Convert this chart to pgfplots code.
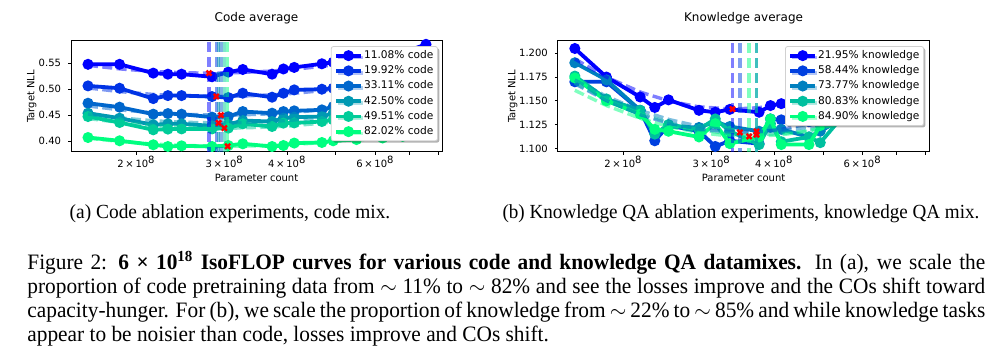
\documentclass[border=0pt]{standalone}
\usepackage{fontspec}
\setmainfont{Liberation Serif}
\newfontfamily\plotfont{DejaVu Sans}
\usepackage{pgfplots}
\usepackage{pgfplotstable}
\pgfplotsset{compat=1.18}
\usetikzlibrary{shadows}

\definecolor{c1}{rgb}{0,0,1}
\definecolor{c2}{rgb}{0,0.2,0.9}
\definecolor{c3}{rgb}{0,0.4,0.8}
\definecolor{c4}{rgb}{0,0.6,0.7}
\definecolor{c5}{rgb}{0,0.8,0.6}
\definecolor{c6}{rgb}{0,1,0.5}
\definecolor{k1}{rgb}{0,0,1}
\definecolor{k2}{rgb}{0,0.25,0.875}
\definecolor{k3}{rgb}{0,0.5,0.75}
\definecolor{k4}{rgb}{0,0.75,0.625}
\definecolor{k5}{rgb}{0,1,0.5}

\pgfplotstableread{
N s1 s2 s3 s4 s5 s6
1.60e8 0.548 0.5064 0.473 0.4538 0.4473 0.4069
1.85e8 0.548 0.5019 0.4654 0.4442 0.4358 0.4006
2.16e8 0.531 0.4819 0.4519 0.4313 0.4217 0.3929
2.31e8 0.529 0.4877 0.4531 0.4333 0.4231 0.3896
2.46e8 0.529 0.4877 0.4519 0.4333 0.4235 0.3909
2.83e8 0.524 0.4858 0.4462 0.4294 0.4235 0.3896
3.05e8 0.533 0.4839 0.4473 0.4320 0.4250 0.3915
3.26e8 0.538 0.4923 0.4569 0.4396 0.4333 0.3948
3.73e8 0.529 0.4846 0.4538 0.4377 0.4281 0.3896
3.93e8 0.539 0.4923 0.4569 0.4442 0.4346 0.3915
4.13e8 0.542 0.4987 0.4583 0.4462 0.4350 0.3962
4.69e8 0.549 0.5000 0.4602 0.4473 0.4377 0.3973
4.94e8 0.552 0.5019 0.4665 0.4538 0.4410 0.4006
5.50e8 0.556 0.507 0.470 0.457 0.448 0.403
6.20e8 0.562 0.512 0.474 0.461 0.452 0.406
6.80e8 0.570 0.519 0.480 0.467 0.457 0.409
7.57e8 0.5865 0.530 0.490 0.476 0.466 0.416
}\codedata

\pgfplotstableread{
N k1 k2 k3 k4 k5
1.60e8 1.205 1.170 1.190 1.176 1.174
1.85e8 1.175 1.170 1.172 1.152 1.150
2.16e8 1.154 1.140 1.140 1.140 1.136
2.31e8 1.143 1.108 1.116 1.115 1.120
2.46e8 1.151 1.124 1.123 1.125 1.118
2.83e8 1.140 1.118 1.122 1.120 1.112
3.05e8 1.138 1.102 1.128 1.131 1.126
3.26e8 1.141 1.108 1.123 1.118 1.105
3.73e8 1.138 1.105 1.118 1.104 1.112
3.93e8 1.145 1.131 1.122 1.126 1.131
4.13e8 1.147 1.130 1.120 1.107 1.104
4.69e8 1.152 1.128 1.112 1.112 1.104
4.94e8 1.156 1.130 1.118 1.106 1.124
5.50e8 1.162 1.138 1.132 1.135 1.134
6.20e8 1.170 1.142 1.136 1.138 1.137
6.80e8 1.176 1.148 1.140 1.140 1.140
7.57e8 1.185 1.155 1.145 1.145 1.143
}\knowdata

\newcommand{\tl}[1]{#1\,×\,10\textsuperscript{8}}
\newcommand{\pf}{\plotfont\fontsize{5}{6}\selectfont}
\newcommand{\lf}{\plotfont\fontsize{5.3}{6}\selectfont}

\pgfplotsset{
  myax/.style={
    scale only axis, width=185.5pt, height=55.65pt,
    xmin=1.48e8, xmax=8.15e8,
    xtick={2e8,3e8,4e8,6e8},
    xticklabels={\tl{2},\tl{3},\tl{4},\tl{6}},
    extra x ticks={5e8,7e8,8e8},
    extra x tick labels={,,},
    tick align=outside, tick pos=left,
    major tick length=1.5pt,
    tick style={black, line width=0.4pt},
    axis line style={line width=0.5pt},
    ticklabel style={font=\pf},
    xticklabel style={yshift=3pt},
    xlabel={Parameter count}, ylabel={Target NLL},
    xlabel style={font=\pf, at={(axis description cs:0.5,-0.234)}, anchor=center},
    title style={font=\plotfont\fontsize{6}{7}\selectfont, at={(axis description cs:0.5,1.096)}, anchor=center},
    clip mode=individual,
    legend cell align=left,
    legend style={anchor=north east, font=\lf, draw=black!18, line width=0.4pt,
      rounded corners=1.2pt, fill=white, inner xsep=1.5pt, inner ysep=1.5pt,
      row sep=1.4pt,
      drop shadow={shadow xshift=0.9pt, shadow yshift=-0.9pt, fill=black, opacity=0.3},
      nodes={inner sep=0.6pt, text height=3.9pt, text depth=1.1pt}},
    legend image code/.code={
      \draw[mark repeat=2,mark phase=2,##1] plot coordinates {(0pt,0pt)(6.2pt,0pt)(12.4pt,0pt)};
    },
  },
  dat/.style={line width=1.9pt, mark=*, mark size=1.75pt, color=#1, mark options={solid}},
  fitl/.style={line width=1.7pt, dash pattern=on 5pt off 2.2pt, color=#1, opacity=0.5, forget plot, mark=none},
  vl/.style={line width=1.7pt, dash pattern=on 5pt off 2.5pt, color=#1, opacity=0.5, forget plot, mark=none},
  co/.style={only marks, mark=x, mark size=1.8pt, red, line width=1.2pt, forget plot},
}

\newcommand{\mainline}[1]{\scalebox{0.97}[1]{\makebox[493.8pt][s]{#1}}}

\begin{document}
\begin{tikzpicture}
\useasboundingbox (0,0) rectangle (500pt,-181.5pt);

% ---------------- Code plot ----------------
\begin{semilogxaxis}[myax, at={(35.5pt,-76pt)}, anchor=south west,
  title={Code average},
  ymin=0.379, ymax=0.5935,
  ytick={0.40,0.45,0.50,0.55}, yticklabels={0.40,0.45,0.50,0.55},
  ylabel style={font=\pf, at={(axis description cs:-0.1062,0.5)}, anchor=center},
  legend style={at={(axis description cs:0.989,0.952)}},
]
\addplot[dat=c1] table[x=N,y=s1]{\codedata};
\addplot[dat=c2] table[x=N,y=s2]{\codedata};
\addplot[dat=c3] table[x=N,y=s3]{\codedata};
\addplot[dat=c4] table[x=N,y=s4]{\codedata};
\addplot[dat=c5] table[x=N,y=s5]{\codedata};
\addplot[dat=c6] table[x=N,y=s6]{\codedata};
\legend{11.08\% code,19.92\% code,33.11\% code,42.50\% code,49.51\% code,82.02\% code}
% fits
\addplot[fitl=c1] coordinates {(1.600e8,0.5460)(1.854e8,0.5391)(2.173e8,0.5340)(2.472e8,0.5317)(2.791e8,0.5310)(3.162e8,0.5318)(3.724e8,0.5350)(4.130e8,0.5384)(4.688e8,0.5440)(5.623e8,0.5547)(7.568e8,0.5790)};
\addplot[fitl=c2] coordinates {(1.600e8,0.5024)(1.854e8,0.4953)(2.173e8,0.4898)(2.472e8,0.4871)(2.886e8,0.4860)(3.162e8,0.4864)(3.724e8,0.4891)(4.130e8,0.4921)(4.688e8,0.4971)(5.623e8,0.5070)(7.568e8,0.5298)};
\addplot[fitl=c3] coordinates {(1.600e8,0.4677)(1.854e8,0.4602)(2.173e8,0.4544)(2.472e8,0.4515)(2.949e8,0.4500)(3.162e8,0.4502)(3.724e8,0.4526)(4.130e8,0.4554)(4.688e8,0.4601)(5.623e8,0.4696)(7.568e8,0.4919)};
\addplot[fitl=c4] coordinates {(1.600e8,0.4520)(1.854e8,0.4447)(2.173e8,0.4391)(2.472e8,0.4363)(2.917e8,0.4350)(3.162e8,0.4353)(3.724e8,0.4378)(4.130e8,0.4407)(4.688e8,0.4456)(5.623e8,0.4553)(7.568e8,0.4778)};
\addplot[fitl=c5] coordinates {(1.600e8,0.4435)(1.854e8,0.4358)(2.173e8,0.4299)(2.472e8,0.4267)(2.995e8,0.4250)(3.162e8,0.4251)(3.724e8,0.4272)(4.130e8,0.4299)(4.688e8,0.4345)(5.623e8,0.4437)(7.568e8,0.4655)};
\addplot[fitl=c6] coordinates {(1.600e8,0.4056)(1.854e8,0.3992)(2.173e8,0.3943)(2.472e8,0.3916)(3.041e8,0.3900)(3.162e8,0.3901)(3.724e8,0.3916)(4.130e8,0.3935)(4.688e8,0.3971)(5.623e8,0.4043)(7.568e8,0.4214)};
% compute-optimal lines
\addplot[vl=c1] coordinates {(2.791e8,0.37)(2.791e8,0.60)};
\addplot[vl=c2] coordinates {(2.886e8,0.37)(2.886e8,0.60)};
\addplot[vl=c3] coordinates {(2.949e8,0.37)(2.949e8,0.60)};
\addplot[vl=c4] coordinates {(2.917e8,0.37)(2.917e8,0.60)};
\addplot[vl=c5] coordinates {(2.995e8,0.37)(2.995e8,0.60)};
\addplot[vl=c6] coordinates {(3.041e8,0.37)(3.041e8,0.60)};
\addplot[co] coordinates {(2.791e8,0.531)(2.886e8,0.486)(2.949e8,0.450)(2.917e8,0.435)(2.995e8,0.425)(3.041e8,0.390)};
\end{semilogxaxis}

% ---------------- Knowledge plot ----------------
\begin{semilogxaxis}[myax, at={(278.9pt,-76pt)}, anchor=south west, width=185.7pt,
  title={Knowledge average},
  ymin=1.0962, ymax=1.2132,
  ytick={1.100,1.125,1.150,1.175,1.200}, yticklabels={1.100,1.125,1.150,1.175,1.200},
  ylabel style={font=\pf, at={(axis description cs:-0.1212,0.5)}, anchor=center},
  legend style={at={(axis description cs:0.986,0.952)}},
]
\addplot[dat=k1] table[x=N,y=k1]{\knowdata};
\addplot[dat=k2] table[x=N,y=k2]{\knowdata};
\addplot[dat=k3] table[x=N,y=k3]{\knowdata};
\addplot[dat=k4] table[x=N,y=k4]{\knowdata};
\addplot[dat=k5] table[x=N,y=k5]{\knowdata};
\legend{21.95\% knowledge,58.44\% knowledge,73.77\% knowledge,80.83\% knowledge,84.90\% knowledge}
\addplot[fitl=k1] coordinates {(1.600e8,1.1940)(1.854e8,1.1747)(2.173e8,1.1588)(2.472e8,1.1497)(2.818e8,1.1438)(3.301e8,1.1413)(3.724e8,1.1428)(4.130e8,1.1464)(4.688e8,1.1537)(5.623e8,1.1698)(7.568e8,1.1990)};
\addplot[fitl=k2] coordinates {(1.600e8,1.1680)(1.854e8,1.1500)(2.173e8,1.1350)(2.472e8,1.1261)(2.818e8,1.1201)(3.415e8,1.1168)(3.724e8,1.1175)(4.130e8,1.1200)(4.688e8,1.1258)(5.623e8,1.1390)(7.568e8,1.1732)};
\addplot[fitl=k3] coordinates {(1.600e8,1.1719)(1.854e8,1.1545)(2.173e8,1.1395)(2.472e8,1.1302)(2.818e8,1.1234)(3.162e8,1.1196)(3.686e8,1.1178)(4.130e8,1.1188)(4.688e8,1.1223)(5.623e8,1.1317)(7.568e8,1.1580)};
\addplot[fitl=k4] coordinates {(1.600e8,1.1685)(1.854e8,1.1511)(2.173e8,1.1361)(2.472e8,1.1268)(2.818e8,1.1200)(3.162e8,1.1162)(3.686e8,1.1144)(4.130e8,1.1154)(4.688e8,1.1189)(5.623e8,1.1283)(7.568e8,1.1546)};
\addplot[fitl=k5] coordinates {(1.600e8,1.1610)(1.854e8,1.1448)(2.173e8,1.1311)(2.472e8,1.1227)(2.818e8,1.1168)(3.162e8,1.1137)(3.564e8,1.1126)(4.130e8,1.1142)(4.688e8,1.1183)(5.623e8,1.1283)(7.568e8,1.1554)};
\addplot[vl=k1] coordinates {(3.301e8,1.09)(3.301e8,1.22)};
\addplot[vl=k2] coordinates {(3.415e8,1.09)(3.415e8,1.22)};
\addplot[vl=k3] coordinates {(3.686e8,1.09)(3.686e8,1.22)};
\addplot[vl=k5] coordinates {(3.564e8,1.09)(3.564e8,1.22)};
\addplot[vl=k4] coordinates {(3.686e8,1.09)(3.686e8,1.22)};
\addplot[co] coordinates {(3.301e8,1.1413)(3.415e8,1.1168)(3.686e8,1.1178)(3.686e8,1.1144)(3.564e8,1.1126)};
\end{semilogxaxis}

% ---------------- captions ----------------
\node[anchor=base, font=\fontsize{10}{12}\selectfont, inner sep=0] at (115pt,-109.3pt) {\scalebox{0.97}[1]{(a) Code ablation experiments, code mix.}};
\node[anchor=base, font=\fontsize{10}{12}\selectfont, inner sep=0] at (370.5pt,-109.3pt) {\scalebox{0.955}[1]{(b) Knowledge QA ablation experiments, knowledge QA mix.}};

\begin{scope}[every node/.style={anchor=base west, inner sep=0, font=\fontsize{11}{12}\selectfont}]
\node at (13.5pt,-134.8pt) {\mainline{Figure 2: \textbf{6 × 10\textsuperscript{18} IsoFLOP curves for various code and knowledge QA datamixes.} In (a), we scale the}};
\node at (13.5pt,-146.8pt) {\mainline{proportion of code pretraining data from $\sim$ 11\% to $\sim$ 82\% and see the losses improve and the COs shift toward}};
\node at (13.5pt,-158.8pt) {\mainline{capacity-hunger. For (b), we scale the proportion of knowledge from $\sim$ 22\% to $\sim$ 85\% and while knowledge tasks}};
\node at (13.5pt,-170.8pt) {\scalebox{0.97}[1]{appear to be noisier than code, losses improve and COs shift.}};
\end{scope}
\end{tikzpicture}
\end{document}
